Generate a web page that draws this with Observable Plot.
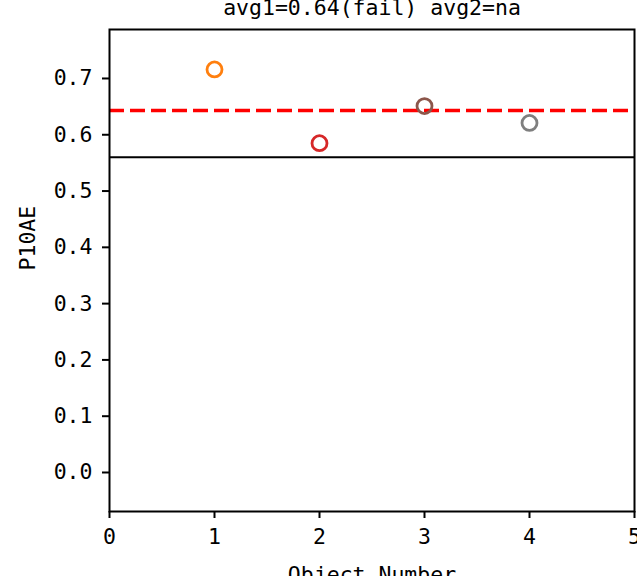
<!DOCTYPE html>
<html>
<head>
<meta charset="utf-8">
<script src="https://cdn.jsdelivr.net/npm/d3@7"></script>
<script src="https://cdn.jsdelivr.net/npm/@observablehq/plot@0.6"></script>
<style>
  html, body { margin: 0; padding: 0; background: white; }
  #chart { width: 637px; height: 576px; overflow: hidden; }
</style>
</head>
<body>
<div id="chart"></div>
<script>
const objectNumbers = [1, 2, 3, 4];
const p10aeValues = [0.716, 0.585, 0.651, 0.621];
const pointColors = ["#ff7f0e", "#d62728", "#8c564b", "#7f7f7f"];
const avgLine = 0.643;
const thresholdLine = 0.56;
const xTicks = [0, 1, 2, 3, 4, 5];
const yTicks = [0.0, 0.1, 0.2, 0.3, 0.4, 0.5, 0.6, 0.7];
const titleText = "avg1=0.64(fail) avg2=na";
const xLabel = "Object Number";
const yLabel = "P10AE";

const points = objectNumbers.map((x, i) => ({x, y: p10aeValues[i], c: pointColors[i]}));

const chart = Plot.plot({
  width: 637,
  height: 576,
  marginTop: 29,
  marginLeft: 109,
  marginRight: 3,
  marginBottom: 65,
  style: {fontFamily: "DejaVu Sans Mono", fontSize: "21.5px", color: "black", background: "white", overflow: "visible"},
  x: {domain: [0, 5]},
  y: {domain: [-0.0693, 0.787]},
  marks: [
    Plot.ruleY([thresholdLine], {stroke: "black", strokeWidth: 2}),
    Plot.ruleY([avgLine], {stroke: "#ff0000", strokeWidth: 3.5, strokeDasharray: "15,6"}),
    Plot.dot(points, {x: "x", y: "y", stroke: "c", r: 7.5, strokeWidth: 2.8, fill: "none"}),
    Plot.frame({stroke: "black", strokeWidth: 2}),
    Plot.axisX({ticks: xTicks, tickSize: 7, tickPadding: 10, tickFormat: d3.format("d"), label: null, strokeWidth: 2, fontSize: 21.5}),
    Plot.axisY({ticks: yTicks, tickSize: 7, tickPadding: 10, tickFormat: d3.format(".1f"), label: null, strokeWidth: 2, fontSize: 21.5}),
    Plot.text([titleText], {frameAnchor: "top", dy: -15, lineAnchor: "bottom", fontSize: 21.5, fill: "black"}),
    Plot.text([xLabel], {frameAnchor: "bottom", dy: 70, lineAnchor: "bottom", fontSize: 21.5, fill: "black"}),
    Plot.text([yLabel], {frameAnchor: "left", dx: -81, rotate: -90, lineAnchor: "middle", fontSize: 21.5, fill: "black"})
  ]
});
document.getElementById("chart").appendChild(chart);
</script>
</body>
</html>
